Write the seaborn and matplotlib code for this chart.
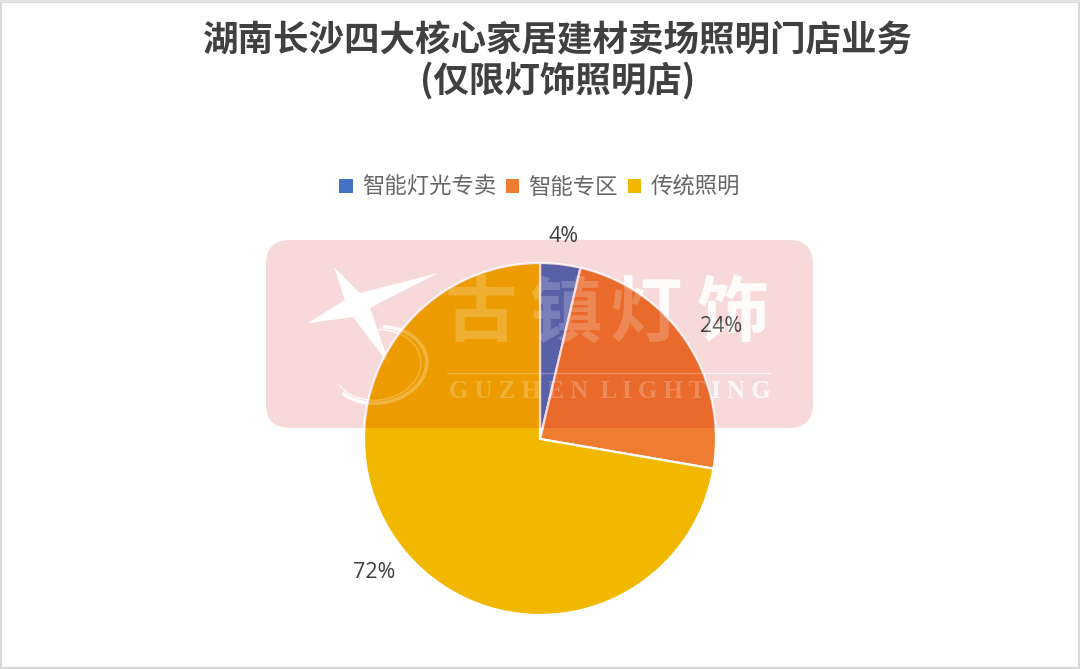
import math
import matplotlib
matplotlib.use("Agg")
import matplotlib.pyplot as plt
import seaborn as sns
from matplotlib.patches import FancyBboxPatch, Polygon, Arc, Rectangle, Patch, Circle

categories = ["智能灯光专卖", "智能专区", "传统照明"]
shares = [3.7, 24.0, 72.3]
pct_labels = ["4%", "24%", "72%"]
colors = ["#4472C4", "#EE7D31", "#F2B800"]
title_lines = ["湖南长沙四大核心家居建材卖场照明门店业务", "(仅限灯饰照明店)"]
watermark_cn = ["古", "镇", "灯", "饰"]
watermark_en = "G U Z H E N  L I G H T I N G"

sns.set_theme(style="white")
plt.rcParams["font.family"] = ["Noto Sans CJK SC", "DejaVu Sans"]

W, H = 1080, 669
fig = plt.figure(figsize=(W / 100, H / 100), dpi=100, facecolor="white")
cx, cy, r = 540, 439, 176


def pixel_axes(z):
    a = fig.add_axes([0, 0, 1, 1], facecolor="none", zorder=z)
    a.set_xlim(0, W)
    a.set_ylim(H, 0)
    a.axis("off")
    return a


def draw_watermark(target, rect_alpha, star_alpha, ring_alpha, text_alpha, line_alpha, en_alpha, clip):
    arts = []
    arts.append(target.add_patch(FancyBboxPatch(
        (266 + 24, 240 + 24), 547 - 48, 188 - 48, boxstyle="round,pad=24,rounding_size=24",
        fc="#CD000A", ec="none", alpha=rect_alpha)))
    star = [(334, 267), (360, 293), (438, 273), (370, 308), (390, 366), (353, 317), (308, 323), (345, 300)]
    arts.append(target.add_patch(Polygon(star, closed=True, fc="white", ec="none", alpha=star_alpha)))
    arts.append(target.add_patch(Arc((378, 365), 98, 76, angle=-8, theta1=-75, theta2=150,
                                     ec="white", lw=2.6, alpha=ring_alpha)))
    arts.append(target.add_patch(Arc((377, 365), 88, 70, angle=-8, theta1=-100, theta2=160,
                                     ec="white", lw=1.0, alpha=ring_alpha)))
    for ch, x in zip(watermark_cn, [481, 566, 646, 733]):
        arts.append(target.text(x, 315, ch, ha="center", va="center", fontsize=52, fontweight="bold",
                                color="white", alpha=text_alpha, family=["Noto Sans CJK SC"]))
    arts.extend(target.plot([447, 770], [373, 373], color="white", lw=1, alpha=line_alpha))
    arts.append(target.text(609.5, 391, watermark_en, ha="center", va="center", fontsize=17.9,
                            fontweight="bold", color="white", alpha=en_alpha,
                            family=["Liberation Serif"]))
    if clip is not None:
        for art in arts:
            art.set_clip_path(clip)
            art.set_clip_on(True)


# Back layer: watermark as it reads on the white page
back = pixel_axes(0)
draw_watermark(back, 0.15, 1.0, 0.9, 0.92, 0.8, 0.75, None)

# Pie
ax = fig.add_axes([(cx - r) / W, 1 - (cy + r) / H, 2 * r / W, 2 * r / H], zorder=1, facecolor="none")
palette = sns.color_palette(colors)
wedges, _ = ax.pie(shares, colors=palette, startangle=90, counterclock=False, radius=1,
                   wedgeprops=dict(edgecolor="white", linewidth=1.6))
ax.set_xlim(-1, 1)
ax.set_ylim(-1, 1)
ax.set_aspect("equal")

label_dist = [1.16, 1.21, 1.21]
label_turn = [0.0, 1.7, 1.4]
for w, lab, d, t in zip(wedges, pct_labels, label_dist, label_turn):
    a = math.radians((w.theta1 + w.theta2) / 2 - t)
    ax.text(d * math.cos(a), d * math.sin(a), lab, ha="center", va="center",
            fontsize=15.5, color="#404040", family=["Open Sans", "DejaVu Sans"],
            clip_on=False, zorder=10)

# Front layer: watermark as it reads on top of the pie only
front = pixel_axes(2)
pie_clip = Circle((cx, cy), r, transform=front.transData)
draw_watermark(front, 0.15, 0.12, 0.25, 0.2, 0.25, 0.22, pie_clip)

# Frame
front.add_patch(Rectangle((0.5, 1.5), W - 1.5, H - 2.5, fill=False, ec="#D9D9D9", lw=1.5))
front.add_patch(Rectangle((0, 0), W, 2, fc="#E2E2E2", ec="none"))

# Titles
for line, y in zip(title_lines, [41, 81]):
    front.text(557.5, y, line, ha="center", va="center", fontsize=25.6, fontweight="bold",
               color="#404040", family=["Noto Sans CJK SC", "DejaVu Sans"])

# Legend
handles = [Patch(fc=c, ec="none") for c in colors]
fig.legend(handles, categories, ncol=3, loc="center", bbox_to_anchor=(539.5 / W, 1 - 187 / H),
           frameon=False, fontsize=16.1, labelcolor="#666666",
           handlelength=0.6, handleheight=0.6, handletextpad=0.4, columnspacing=0.45,
           borderpad=0, borderaxespad=0)

fig.savefig("out.png", dpi=100, facecolor="white")
